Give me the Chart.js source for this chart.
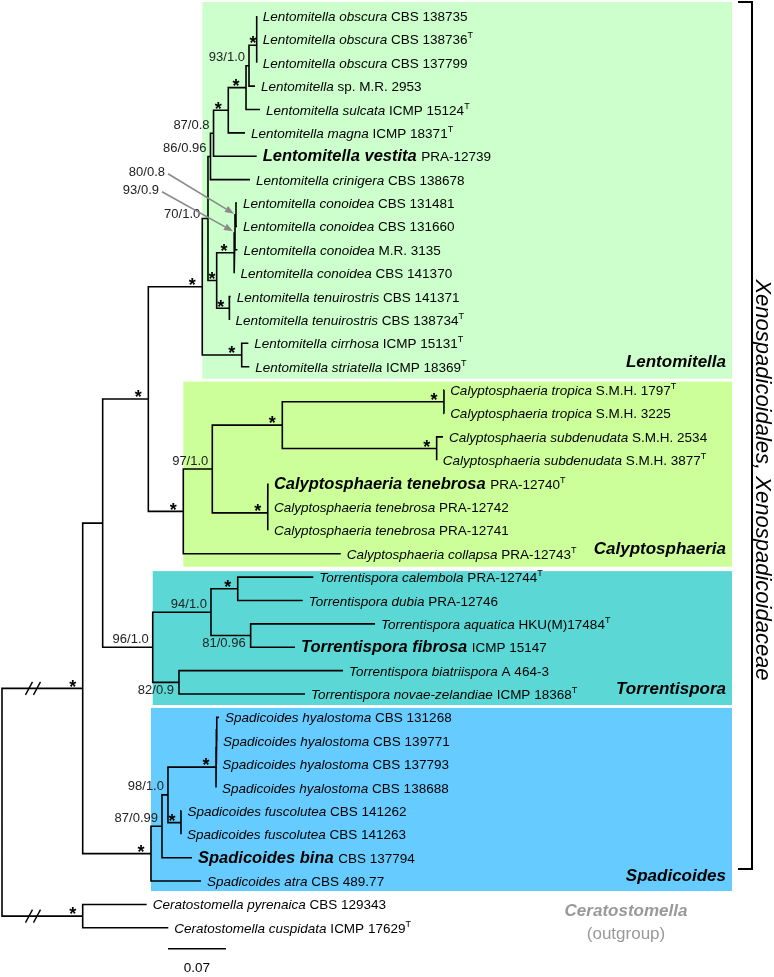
<!DOCTYPE html>
<html>
<head>
<meta charset="utf-8">
<title>Xenospadicoidales phylogeny</title>
<script src="https://cdn.jsdelivr.net/npm/chart.js@4.4.1/dist/chart.umd.min.js"></script>
<style>
    html, body { margin: 0; padding: 0; background: #fff; }
    #wrap { width: 774px; height: 977px; }
</style>
</head>
<body>
<div id="wrap"><canvas id="tree" width="774" height="977"></canvas></div>
<script>
// Taxa, top to bottom
const taxonNames = [
    'Lentomitella obscura', 'Lentomitella obscura', 'Lentomitella obscura', 'Lentomitella',
    'Lentomitella sulcata', 'Lentomitella magna', 'Lentomitella vestita', 'Lentomitella crinigera',
    'Lentomitella conoidea', 'Lentomitella conoidea', 'Lentomitella conoidea', 'Lentomitella conoidea',
    'Lentomitella tenuirostris', 'Lentomitella tenuirostris', 'Lentomitella cirrhosa', 'Lentomitella striatella',
    'Calyptosphaeria tropica', 'Calyptosphaeria tropica', 'Calyptosphaeria subdenudata', 'Calyptosphaeria subdenudata',
    'Calyptosphaeria tenebrosa', 'Calyptosphaeria tenebrosa', 'Calyptosphaeria tenebrosa', 'Calyptosphaeria collapsa',
    'Torrentispora calembola', 'Torrentispora dubia', 'Torrentispora aquatica', 'Torrentispora fibrosa',
    'Torrentispora biatriispora', 'Torrentispora novae-zelandiae',
    'Spadicoides hyalostoma', 'Spadicoides hyalostoma', 'Spadicoides hyalostoma', 'Spadicoides hyalostoma',
    'Spadicoides fuscolutea', 'Spadicoides fuscolutea', 'Spadicoides bina', 'Spadicoides atra',
    'Ceratostomella pyrenaica', 'Ceratostomella cuspidata'
];
const strains = [
    'CBS 138735', 'CBS 138736', 'CBS 137799', 'sp. M.R. 2953',
    'ICMP 15124', 'ICMP 18371', 'PRA-12739', 'CBS 138678',
    'CBS 131481', 'CBS 131660', 'M.R. 3135', 'CBS 141370',
    'CBS 141371', 'CBS 138734', 'ICMP 15131', 'ICMP 18369',
    'S.M.H. 1797', 'S.M.H. 3225', 'S.M.H. 2534', 'S.M.H. 3877',
    'PRA-12740', 'PRA-12742', 'PRA-12741', 'PRA-12743',
    'PRA-12744', 'PRA-12746', 'HKU(M)17484', 'ICMP 15147',
    'A 464-3', 'ICMP 18368',
    'CBS 131268', 'CBS 139771', 'CBS 137793', 'CBS 138688',
    'CBS 141262', 'CBS 141263', 'CBS 137794', 'CBS 489.77',
    'CBS 129343', 'ICMP 17629'
];
const typeStrains = [1, 4, 5, 13, 14, 15, 16, 19, 20, 23, 24, 26, 29, 39];
const newSpecies = [6, 20, 27, 36];

// distance from the root (substitutions per site) of each tip
const tipDepth = [
    0.3074, 0.3074, 0.3074, 0.3053, 0.3114, 0.2933, 0.3074, 0.2993,
    0.2836, 0.2836, 0.2842, 0.2806, 0.2760, 0.2746, 0.2973, 0.2985,
    0.5336, 0.5336, 0.5322, 0.5246, 0.3209, 0.3209, 0.3209, 0.4088,
    0.3757, 0.3629, 0.4502, 0.3536, 0.4116, 0.3657,
    0.2619, 0.2595, 0.2587, 0.2583, 0.2166, 0.2160, 0.2293, 0.2402,
    0.1746, 0.2007
];

// internal nodes: [id, children, depth, support]
const nodes = [
    ['o12', [0, 1], 0.3074, ''],
    ['N1', ['o12', 2], 0.3074, '*'],
    ['N2', ['N1', 3], 0.2981, '93/1.0'],
    ['N3', ['N2', 4], 0.2945, '*'],
    ['N4', ['N3', 5], 0.2731, '*'],
    ['L4', ['N4', 6], 0.2553, '87/0.8'],
    ['L3', ['L4', 7], 0.2516, '86/0.96'],
    ['Q3', [8, 9], 0.2824, ''],
    ['Q2', ['Q3', 10], 0.2812, ''],
    ['Q1', ['Q2', 11], 0.2800, '*'],
    ['Tn', [12, 13], 0.2743, '*'],
    ['Q0', ['Q1', 'Tn'], 0.2591, '*'],
    ['L2', ['L3', 'Q0'], 0.2486, '70/1.0'],
    ['Ci', [14, 15], 0.2893, '*'],
    ['L1', ['L2', 'Ci'], 0.2417, '*'],
    ['C3', [16, 17], 0.5334, '*'],
    ['C4', [18, 19], 0.5246, '*'],
    ['C2', ['C3', 'C4'], 0.3383, '*'],
    ['t12', [20, 21], 0.3207, ''],
    ['C5', ['t12', 22], 0.3207, '*'],
    ['C1', ['C2', 'C5'], 0.2538, '97/1.0'],
    ['C0', ['C1', 23], 0.2188, '*'],
    ['Y', ['L1', 'C0'], 0.1766, '*'],
    ['T2', [24, 25], 0.2845, '*'],
    ['T3', [26, 27], 0.3001, '81/0.96'],
    ['T1', ['T2', 'T3'], 0.2522, '94/1.0'],
    ['T4', [28, 29], 0.2136, '82/0.9'],
    ['T0', ['T1', 'T4'], 0.1819, '96/1.0'],
    ['X', ['Y', 'T0'], 0.1215, ''],
    ['h12', [30, 31], 0.2592, ''],
    ['h123', ['h12', 32], 0.2587, ''],
    ['S3', ['h123', 33], 0.2583, '*'],
    ['S4', [34, 35], 0.2160, '*'],
    ['S2', ['S3', 'S4'], 0.2003, '98/1.0'],
    ['S1', ['S2', 36], 0.1931, '87/0.99'],
    ['S0', ['S1', 37], 0.1798, '*'],
    ['I', ['X', 'S0'], 0.0974, '*'],
    ['O', [38, 39], 0.0974, '*'],
    ['R', ['I', 'O'], 0, '']
];

// supports shown with an arrow (near-zero branches)
const calloutSupports = [['Q3', '80/0.8'], ['Q2', '93/0.9']];

// clades boxed on the right: [name, first tip, last tip]
const clades = [
    ['Lentomitella', 0, 15],
    ['Calyptosphaeria', 16, 23],
    ['Torrentispora', 24, 29],
    ['Spadicoides', 30, 37]
];
const outgroup = ['Ceratostomella', 38, 39];
const orderLabel = 'Xenospadicoidales, Xenospadicoidaceae';

const brokenBranches = ['I', 'O'];
const breakDepth = 0.0374;
const scaleBarStart = 0.2003;
const scaleBarLength = 0.07;

// ---- layout / style ----
const W = 774, H = 977;
const X_PER_UNIT = 58 / 0.07;
const X_ORIGIN = 2;
const ROW = 23.38, FIRST_ROW = 16;
const FONT = '"Liberation Sans", Arial, Helvetica, sans-serif';
const boxStyle = {
    Lentomitella: { color: '#ccffcc', padTop: 14, padBottom: 12 },
    Calyptosphaeria: { color: '#ccff99', padTop: 8.5, padBottom: 13 },
    Torrentispora: { color: '#5bd8d5', padTop: 6, padBottom: 11 },
    Spadicoides: { color: '#66ccff', padTop: 9.5, padBottom: 10 }
};
const BOX_RIGHT = 732;
const labelPlace = { T3: 'below', T4: 'below', L2: 'left' };
const calloutOffset = { Q3: [-71, -42], Q2: [-76, -41.5] };

// ---- tree geometry ----
const nodeById = {};
const parentOf = {};
nodes.forEach(n => {
    nodeById[n[0]] = { id: n[0], kids: n[1], depth: n[2], support: n[3] };
    n[1].forEach(k => { parentOf[k] = n[0]; });
});

function place(ref) {
    if (typeof ref === 'number') return { x: tipDepth[ref], y: ref };
    const n = nodeById[ref];
    if (!n.pos) {
        const first = place(n.kids[0]);
        const last = place(n.kids[n.kids.length - 1]);
        n.pos = { x: n.depth, y: (first.y + last.y) / 2 };
    }
    return n.pos;
}

function buildBranches() {
    const pts = [];
    const gap = { x: null, y: null };
    nodes.forEach(row => {
        const n = place(row[0]);
        const kids = row[1].map(place);
        const a = kids[0], b = kids[kids.length - 1];
        pts.push({ x: a.x, y: a.y }, { x: n.x, y: a.y }, { x: n.x, y: b.y }, { x: b.x, y: b.y }, gap);
        kids.slice(1, -1).forEach(k => {
            pts.push({ x: n.x, y: k.y }, { x: k.x, y: k.y }, gap);
        });
    });
    return pts;
}

// crown node of a clade = the node whose first and last tips match the clade range
function firstTip(ref) { return typeof ref === 'number' ? ref : firstTip(nodeById[ref].kids[0]); }
function lastTip(ref) {
    if (typeof ref === 'number') return ref;
    const k = nodeById[ref].kids;
    return lastTip(k[k.length - 1]);
}
function crownOf(c) {
    let best = null;
    nodes.forEach(row => {
        if (firstTip(row[0]) === c[1] && lastTip(row[0]) === c[2]) best = row[0];
    });
    return best;
}

// ---- text helpers ----
function drawRuns(ctx, runs, x, y) {
    runs.forEach(r => {
        ctx.font = r.font;
        ctx.fillText(r.text, x, y + (r.dy || 0));
        x += ctx.measureText(r.text).width;
    });
}

function drawStar(ctx, x, cy) {
    const size = 18;
    ctx.font = 'bold ' + size + 'px ' + FONT;
    ctx.textAlign = 'center';
    ctx.fillText('*', x, cy + 0.57 * size);
    ctx.textAlign = 'left';
}

function drawArrow(ctx, x0, y0, x1, y1) {
    const ang = Math.atan2(y1 - y0, x1 - x0);
    const len = 9, half = 3.5;
    const bx = x1 - len * Math.cos(ang), by = y1 - len * Math.sin(ang);
    ctx.beginPath();
    ctx.moveTo(x0, y0);
    ctx.lineTo(bx, by);
    ctx.stroke();
    ctx.beginPath();
    ctx.moveTo(x1, y1);
    ctx.lineTo(bx + half * Math.sin(ang), by - half * Math.cos(ang));
    ctx.lineTo(bx - half * Math.sin(ang), by + half * Math.cos(ang));
    ctx.closePath();
    ctx.fill();
}

const treeDecor = {
    id: 'treeDecor',
    beforeDatasetsDraw(chart) {
        const ctx = chart.ctx;
        const xs = chart.scales.x, ys = chart.scales.y;
        ctx.save();
        clades.forEach(c => {
            const st = boxStyle[c[0]];
            const left = xs.getPixelForValue(place(crownOf(c)).x);
            const top = ys.getPixelForValue(c[1]) - st.padTop;
            const bottom = ys.getPixelForValue(c[2]) + st.padBottom;
            ctx.fillStyle = st.color;
            ctx.fillRect(left, top, BOX_RIGHT - left, bottom - top);
        });
        ctx.restore();
    },
    afterDatasetsDraw(chart) {
        const ctx = chart.ctx;
        const xs = chart.scales.x, ys = chart.scales.y;
        const px = v => xs.getPixelForValue(v);
        const py = v => ys.getPixelForValue(v);
        ctx.save();
        ctx.fillStyle = '#000';
        ctx.textBaseline = 'alphabetic';
        ctx.textAlign = 'left';

        // tip labels
        taxonNames.forEach((name, i) => {
            const bold = newSpecies.includes(i);
            const x = px(tipDepth[i]) + 6;
            const y = py(i) + 5;
            const runs = [
                { text: name + ' ', font: (bold ? 'italic bold 16.5px ' : 'italic 13.5px ') + FONT },
                { text: strains[i], font: '13.5px ' + FONT }
            ];
            if (typeStrains.includes(i)) runs.push({ text: 'T', font: '9px ' + FONT, dy: -6 });
            drawRuns(ctx, runs, x, y);
        });

        // support values
        ctx.fillStyle = '#222';
        nodes.forEach(row => {
            const id = row[0], sup = row[3];
            if (!sup || id === 'R') return;
            const n = place(id);
            const p = place(parentOf[id]);
            const nx = px(n.x), pxp = px(p.x), sy = py(n.y);
            if (sup === '*') {
                ctx.fillStyle = '#000';
                drawStar(ctx, Math.max(nx - 10, pxp + 4), sy - 6);
                ctx.fillStyle = '#222';
                return;
            }
            ctx.font = '13px ' + FONT;
            ctx.textAlign = 'right';
            ctx.textBaseline = 'middle';
            const where = labelPlace[id] || 'above';
            if (where === 'below') ctx.fillText(sup, nx - 5, sy + 8);
            else if (where === 'left') ctx.fillText(sup, pxp - 2, sy - 4.5);
            else ctx.fillText(sup, nx - 4, sy - 8);
            ctx.textAlign = 'left';
            ctx.textBaseline = 'alphabetic';
        });

        // callout supports with grey arrows
        ctx.strokeStyle = '#8a8a8a';
        ctx.lineWidth = 1.6;
        calloutSupports.forEach(c => {
            const n = place(c[0]);
            const nx = px(n.x), ny = py(n.y);
            const off = calloutOffset[c[0]];
            ctx.fillStyle = '#222';
            ctx.font = '13px ' + FONT;
            ctx.textAlign = 'right';
            ctx.textBaseline = 'middle';
            ctx.fillText(c[1], nx + off[0], ny + off[1]);
            ctx.fillStyle = '#8a8a8a';
            drawArrow(ctx, nx + off[0] + 3, ny + off[1] + 1, nx - 2, ny - 1);
        });
        ctx.textAlign = 'left';
        ctx.textBaseline = 'alphabetic';

        // truncated branches
        ctx.strokeStyle = '#000';
        ctx.lineWidth = 1.4;
        brokenBranches.forEach(id => {
            const cx = px(breakDepth), cy = py(place(id).y);
            [-4, 4].forEach(dx => {
                ctx.beginPath();
                ctx.moveTo(cx + dx - 3.5, cy + 6.5);
                ctx.lineTo(cx + dx + 3.5, cy - 6.5);
                ctx.stroke();
            });
        });

        // clade names
        ctx.fillStyle = '#000';
        ctx.textAlign = 'right';
        clades.forEach(c => {
            ctx.font = 'italic bold 17px ' + FONT;
            ctx.fillText(c[0], 726, py(c[2]));
        });
        ctx.textAlign = 'center';
        ctx.fillStyle = '#999';
        ctx.font = 'italic bold 17px ' + FONT;
        ctx.fillText(outgroup[0], 626, py(outgroup[1]) + 12);
        ctx.font = '17px ' + FONT;
        ctx.fillText('(outgroup)', 626, py(outgroup[2]) + 11);

        // bracket for the order / family
        ctx.strokeStyle = '#000';
        ctx.lineWidth = 2;
        ctx.beginPath();
        ctx.moveTo(738, 2);
        ctx.lineTo(752, 2);
        ctx.lineTo(752, 869);
        ctx.lineTo(738, 869);
        ctx.stroke();
        ctx.save();
        ctx.translate(762, 480);
        ctx.rotate(Math.PI / 2);
        ctx.fillStyle = '#000';
        ctx.font = 'italic 22px ' + FONT;
        ctx.textAlign = 'center';
        ctx.textBaseline = 'middle';
        ctx.fillText(orderLabel, 0, 0);
        ctx.restore();

        // scale bar
        const sy = py(taxonNames.length - 1) + 21;
        ctx.lineWidth = 1.6;
        ctx.beginPath();
        ctx.moveTo(px(scaleBarStart), sy);
        ctx.lineTo(px(scaleBarStart + scaleBarLength), sy);
        ctx.stroke();
        ctx.fillStyle = '#000';
        ctx.font = '13.5px ' + FONT;
        ctx.textAlign = 'center';
        ctx.fillText(String(scaleBarLength), (px(scaleBarStart) + px(scaleBarStart + scaleBarLength)) / 2, sy + 23);
        ctx.restore();
    }
};

const ctx = document.getElementById('tree').getContext('2d');
new Chart(ctx, {
    type: 'line',
    data: {
        datasets: [{
            label: 'branches',
            data: buildBranches(),
            borderColor: '#000',
            borderWidth: 1.6,
            pointRadius: 0,
            spanGaps: false,
            fill: false,
            tension: 0
        }]
    },
    options: {
        responsive: false,
        animation: false,
        devicePixelRatio: 1,
        layout: { padding: 0 },
        plugins: {
            legend: { display: false },
            tooltip: { enabled: false }
        },
        scales: {
            x: {
                type: 'linear',
                display: false,
                min: -X_ORIGIN / X_PER_UNIT,
                max: (W - X_ORIGIN) / X_PER_UNIT
            },
            y: {
                type: 'linear',
                display: false,
                reverse: true,
                min: -FIRST_ROW / ROW,
                max: (H - FIRST_ROW) / ROW
            }
        }
    },
    plugins: [treeDecor]
});
</script>
</body>
</html>
